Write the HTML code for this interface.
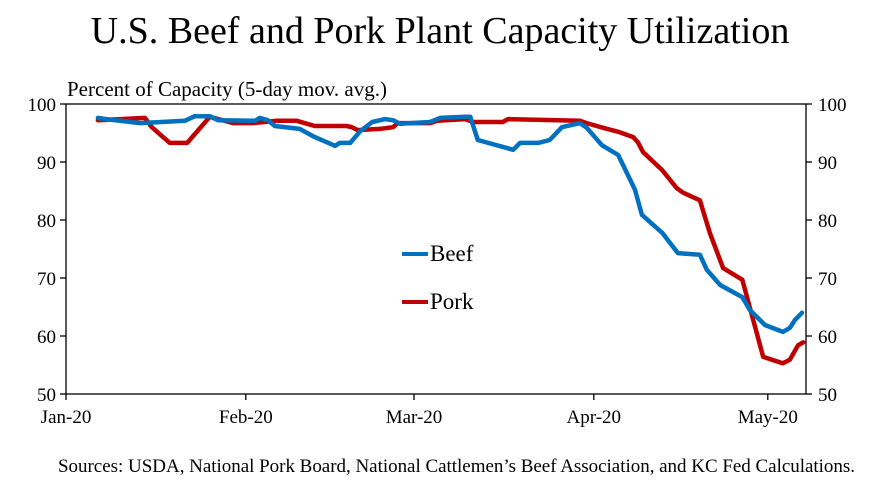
<!DOCTYPE html>
<html><head><meta charset="utf-8"><style>
body{margin:0;background:#fff;}
svg{display:block;font-family:"Liberation Serif",serif;}
</style></head><body>
<svg id="chart" width="871" height="486">
<text x="440" y="43" text-anchor="middle" font-size="38" fill="#000">U.S. Beef and Pork Plant Capacity Utilization</text>
<text x="67" y="96" font-size="21" fill="#000">Percent of Capacity (5-day mov. avg.)</text>
<text x="855" y="472" text-anchor="end" font-size="19" textLength="797" fill="#000">Sources: USDA, National Pork Board, National Cattlemen’s Beef Association, and KC Fed Calculations.</text>
<g id="axes"></g>
<g id="series"></g>
<g>
<line x1="402" y1="254" x2="428" y2="254" stroke="#0070C0" stroke-width="4"/>
<text x="430" y="261" font-size="23">Beef</text>
<line x1="402" y1="302" x2="428" y2="302" stroke="#C00000" stroke-width="4"/>
<text x="430" y="309" font-size="23">Pork</text>
</g>
</svg>
<script>
const yTicks=[50,60,70,80,90,100];
const monthLabels=["Jan-20","Feb-20","Mar-20","Apr-20","May-20"];
const monthDays=[0,31,60,91,121];
const beefDays=[5.5,6.9,12.8,20.5,22.2,24.8,26.2,32.6,33.4,34.8,36.0,40.3,42.9,46.4,47.2,49.0,50.7,52.8,55.0,56.4,57.6,62.8,64.5,68.8,69.7,71.0,77.1,78.3,81.4,83.4,85.5,88.6,89.8,92.4,95.2,98.1,99.3,102.8,105.5,109.3,110.5,112.8,116.6,117.9,120.5,123.6,124.8,125.7,126.9];
const beefValues=[97.6,97.4,96.7,97.1,97.9,97.9,97.2,97.1,97.6,97.2,96.2,95.7,94.3,92.8,93.3,93.3,95.3,96.9,97.4,97.2,96.6,96.9,97.6,97.8,97.8,93.8,92.1,93.3,93.3,93.8,96.0,96.7,95.9,92.9,91.2,85.2,80.9,77.8,74.3,74.0,71.4,68.8,66.7,64.5,61.9,60.7,61.4,62.8,64.0];
const porkDays=[5.5,13.6,14.8,17.9,20.9,24.8,28.8,32.2,36.4,39.8,42.9,48.4,49.3,50.3,54.1,56.4,57.2,62.8,64.0,68.8,70.2,75.3,76.2,88.6,89.8,92.6,95.2,97.8,98.6,99.5,102.8,105.3,106.4,109.3,111.0,113.3,116.6,120.2,123.6,124.8,126.2,127.1];
const porkValues=[97.2,97.6,96.0,93.3,93.3,97.8,96.7,96.7,97.1,97.1,96.2,96.2,96.0,95.5,95.7,96.0,96.7,96.7,97.1,97.4,96.9,96.9,97.4,97.1,96.7,95.9,95.2,94.3,93.4,91.7,88.6,85.5,84.7,83.4,77.8,71.7,69.7,56.4,55.3,55.9,58.4,58.9];

const X0=66,X1=806,Y0=394,Y1=104;
const xs=d=>X0+d*5.8;
const ys=v=>Y0-(v-50)*(Y0-Y1)/50;
const NS="http://www.w3.org/2000/svg";
const axes=document.getElementById('axes'),series=document.getElementById('series');
function mk(tag,attrs,parent){const e=document.createElementNS(NS,tag);for(const k in attrs)e.setAttribute(k,attrs[k]);parent.appendChild(e);return e;}
let e;
e=mk('rect',{x:X0,y:Y1,width:X1-X0,height:Y0-Y1,fill:'none',stroke:'#000','stroke-width':1.3},axes);


yTicks.forEach(v=>{
 const y=ys(v);
 e=mk('line',{x1:X0-6,y1:y,x2:X0,y2:y,stroke:'#000','stroke-width':1.3},axes);
 
 
 e=mk('line',{x1:X1,y1:y,x2:X1+6,y2:y,stroke:'#000','stroke-width':1.3},axes);
 
 
 e=mk('text',{x:X0-10,y:y+7,'text-anchor':'end','font-size':19},axes);e.textContent=v;
 
 
 e=mk('text',{x:X1+12,y:y+7,'font-size':19},axes);e.textContent=v;
 
 
});
monthDays.forEach((d,i)=>{
 const x=xs(d);
 e=mk('line',{x1:x,y1:Y0,x2:x,y2:Y0+6,stroke:'#000','stroke-width':1.3},axes);
 
 
 e=mk('text',{x:x,y:Y0+29,'text-anchor':'middle','font-size':19},axes);e.textContent=monthLabels[i];
 
 
});
function line(days,vals,color,name){
 const d=days.map((t,i)=>(i?'L':'M')+xs(t).toFixed(1)+' '+ys(vals[i]).toFixed(1)).join(' ');
 const p=mk('path',{d:d,fill:'none',stroke:color,'stroke-width':4.5,'stroke-linejoin':'round','stroke-linecap':'round'},series);
 
 
}
line(porkDays,porkValues,'#C00000','pork-line');
line(beefDays,beefValues,'#0070C0','beef-line');
</script>
</body></html>
